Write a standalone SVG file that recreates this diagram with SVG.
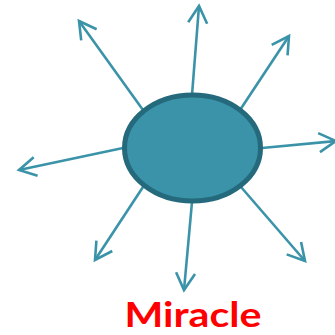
<svg xmlns="http://www.w3.org/2000/svg" width="335" height="335" viewBox="0 0 335 335">
  <style>
    .conn { stroke: #3A93A8; stroke-width: 2.6; fill: none; marker-end: url(#arrow); }
    .hub { fill: #3A93A8; stroke: #246A7C; stroke-width: 5; }
    .label { font-family: "Lato", "Liberation Sans", sans-serif; font-weight: bold; font-size: 35px; fill: #FF0000; }
  </style>
  <defs>
    <marker id="arrow" markerUnits="userSpaceOnUse" markerWidth="40" markerHeight="40" viewBox="-20 -20 40 40" refX="0" refY="0" orient="auto">
      <path d="M-17,-9.5 L0,0 L-17,9.5" fill="none" stroke="#3A93A8" stroke-width="2.6"/>
    </marker>
  </defs>
  <g id="connectors">
    <line class="conn" x1="143" y1="110" x2="79" y2="21"/>
    <line class="conn" x1="192" y1="95" x2="199" y2="6"/>
    <line class="conn" x1="240" y1="110" x2="289" y2="36"/>
    <line class="conn" x1="262" y1="148" x2="336" y2="141"/>
    <line class="conn" x1="123" y1="148" x2="19" y2="170"/>
    <line class="conn" x1="143" y1="187" x2="95" y2="260"/>
    <line class="conn" x1="192" y1="202" x2="184" y2="290"/>
    <line class="conn" x1="241" y1="187" x2="305" y2="261"/>
  </g>
  <g id="hub">
    <ellipse class="hub" cx="192.5" cy="148" rx="68" ry="53"/>
  </g>
  <g id="miracle">
    <text class="label" x="193" y="327" text-anchor="middle" textLength="137" lengthAdjust="spacingAndGlyphs">Miracle</text>
  </g>
</svg>
